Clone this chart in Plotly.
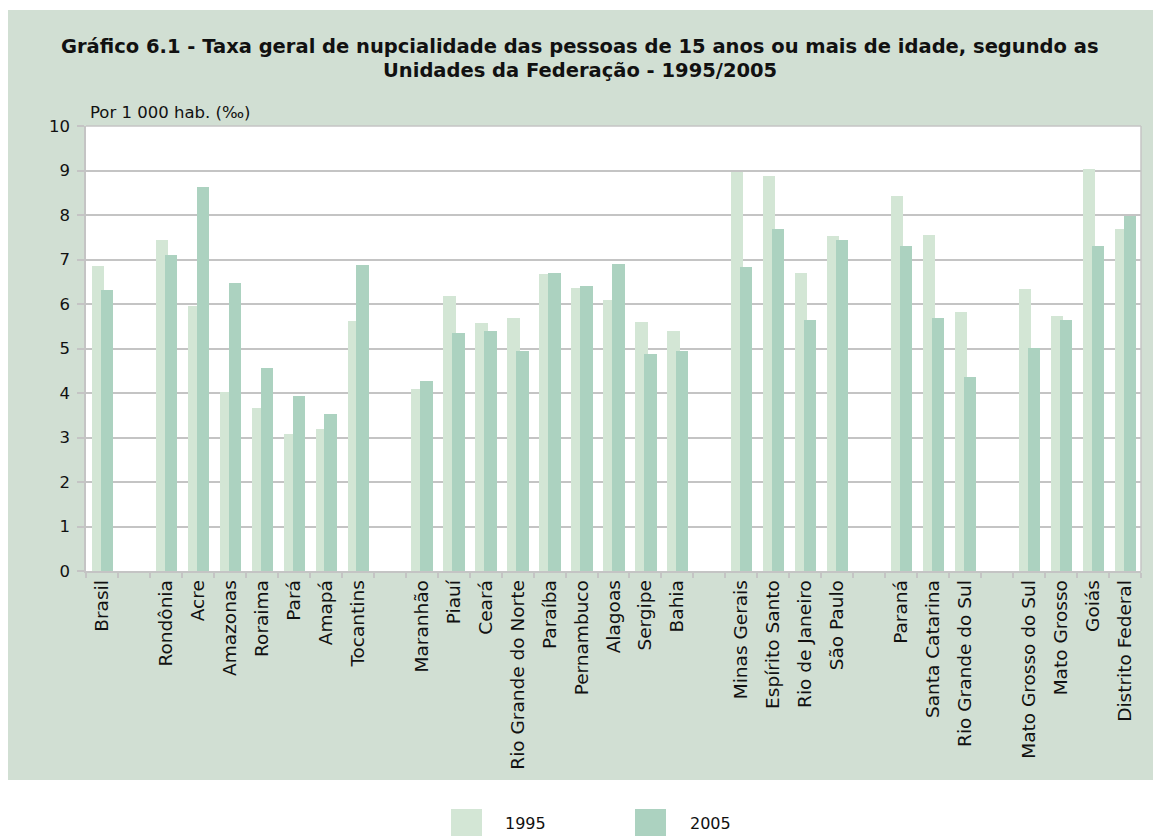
import plotly.graph_objects as go

# ---- data ----
categories = ["Brasil", " ",
              "Rondônia", "Acre", "Amazonas", "Roraima", "Pará", "Amapá", "Tocantins", "  ",
              "Maranhão", "Piauí", "Ceará", "Rio Grande do Norte", "Paraíba", "Pernambuco",
              "Alagoas", "Sergipe", "Bahia", "   ",
              "Minas Gerais", "Espírito Santo", "Rio de Janeiro", "São Paulo", "    ",
              "Paraná", "Santa Catarina", "Rio Grande do Sul", "     ",
              "Mato Grosso do Sul", "Mato Grosso", "Goiás", "Distrito Federal"]

values_1995 = [6.86, None,
               7.44, 5.96, 4.02, 3.66, 3.08, 3.19, 5.62, None,
               4.08, 6.19, 5.57, 5.68, 6.67, 6.35, 6.10, 5.59, 5.39, None,
               8.97, 8.88, 6.69, 7.53, None,
               8.43, 7.55, 5.82, None,
               6.33, 5.73, 9.03, 7.68]

values_2005 = [6.32, None,
               7.10, 8.63, 6.47, 4.56, 3.93, 3.53, 6.88, None,
               4.28, 5.34, 5.39, 4.94, 6.69, 6.40, 6.91, 4.87, 4.94, None,
               6.83, 7.68, 5.64, 7.44, None,
               7.30, 5.68, 4.36, None,
               5.01, 5.64, 7.30, 7.98]

series_names = ["1995", "2005"]
y_ticks = [0, 1, 2, 3, 4, 5, 6, 7, 8, 9, 10]

title_line1 = "<b>Gráfico 6.1 - Taxa geral de nupcialidade das pessoas de 15 anos ou mais de idade, segundo as</b>"
title_line2 = "<b>Unidades da Federação - 1995/2005</b>"
unit_text = "Por 1 000 hab. (‰)"

# ---- style ----
C1995 = "#d3e6d5"
C2005 = "#acd2c0"
PANEL = "#d1dfd3"
GRID = "#c4c4c4"
FONT = "DejaVu Sans"
TXT = "#111111"

OFF = 8  # page body margin
W, H = 1161, 836 - OFF
L, R, T, B = 86 - OFF, 1141 - OFF, 126 - OFF, 571 - OFF


def px(x):
    return (x - OFF - L) / (R - L)


def py(y):
    return (B - (y - OFF)) / (B - T)


fig = go.Figure()
fig.add_trace(go.Bar(x=categories, y=values_1995, name=series_names[0],
                     marker=dict(color=C1995, line=dict(width=0)),
                     offset=-0.32, width=0.385, showlegend=False))
fig.add_trace(go.Bar(x=categories, y=values_2005, name=series_names[1],
                     marker=dict(color=C2005, line=dict(width=0)),
                     offset=-0.04, width=0.385, showlegend=False))

shapes = [
    dict(type="rect", xref="paper", yref="paper", layer="below",
         x0=px(7), x1=px(1180), y0=py(780), y1=py(10),
         fillcolor=PANEL, line=dict(width=0)),
    dict(type="rect", xref="paper", yref="paper", layer="below",
         x0=0, x1=1, y0=0, y1=1, fillcolor="white", line=dict(width=0)),
    dict(type="rect", xref="paper", yref="paper",
         x0=px(451), x1=px(482), y0=py(836), y1=py(809),
         fillcolor=C1995, line=dict(width=0)),
    dict(type="rect", xref="paper", yref="paper",
         x0=px(635), x1=px(666), y0=py(836), y1=py(809),
         fillcolor=C2005, line=dict(width=0)),
    dict(type="line", xref="paper", yref="paper", x0=0, x1=1, y0=1, y1=1,
         line=dict(color=GRID, width=1.5)),
    dict(type="line", xref="paper", yref="paper", x0=1, x1=1, y0=0, y1=1,
         line=dict(color=GRID, width=1.5)),
]

annotations = [
    dict(text=title_line1, xref="paper", yref="paper", x=px(580), y=py(46),
         xanchor="center", yanchor="middle", showarrow=False,
         font=dict(family=FONT, size=19.5, color=TXT)),
    dict(text=title_line2, xref="paper", yref="paper", x=px(580), y=py(71),
         xanchor="center", yanchor="middle", showarrow=False,
         font=dict(family=FONT, size=19.5, color=TXT)),
    dict(text=unit_text, xref="paper", yref="paper", x=px(88), y=py(112),
         xanchor="left", yanchor="middle", showarrow=False,
         font=dict(family=FONT, size=16.5, color=TXT)),
    dict(text=series_names[0], xref="paper", yref="paper", x=px(503), y=py(823),
         xanchor="left", yanchor="middle", showarrow=False,
         font=dict(family=FONT, size=16, color=TXT)),
    dict(text=series_names[1], xref="paper", yref="paper", x=px(688), y=py(823),
         xanchor="left", yanchor="middle", showarrow=False,
         font=dict(family=FONT, size=16, color=TXT)),
]

fig.update_layout(
    width=W, height=H,
    margin=dict(l=L, r=W - R, t=T, b=H - B, pad=0),
    paper_bgcolor="white", plot_bgcolor="white",
    barmode="overlay", bargap=0,
    showlegend=False,
    font=dict(family=FONT, size=17, color=TXT),
    shapes=shapes, annotations=annotations,
    xaxis=dict(type="category", categoryorder="array", categoryarray=categories,
               tickangle=-90, tickson="boundaries", ticks="outside", ticklen=5,
               tickcolor=GRID, tickwidth=1.5, showline=True, linecolor=GRID, linewidth=1.5,
               showgrid=False, tickfont=dict(family=FONT, size=18.5, color=TXT),
               range=[-0.5, len(categories) - 0.5]),
    yaxis=dict(range=[0, 10], tickvals=y_ticks, showgrid=True, gridcolor=GRID, gridwidth=1.5,
               ticks="outside", ticklen=7, tickcolor=GRID, tickwidth=1.5,
               showline=True, linecolor=GRID, linewidth=1.5, zeroline=False,
               tickfont=dict(family=FONT, size=16.5, color=TXT), ticklabelstandoff=4),
)

fig.write_html("out.html")
